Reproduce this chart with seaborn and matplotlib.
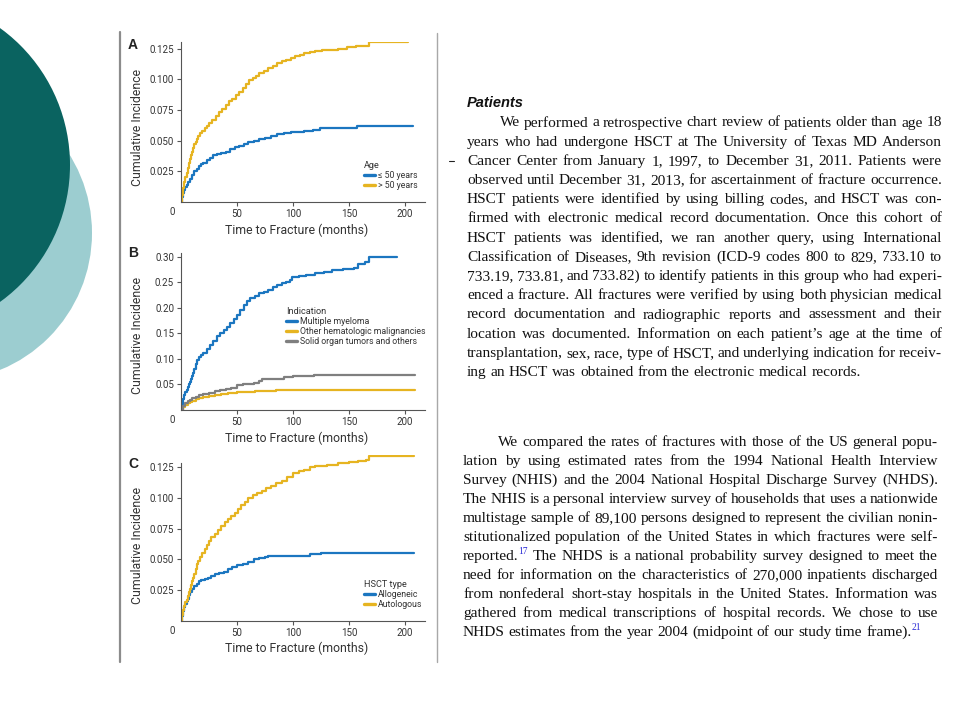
import numpy as np
import pandas as pd
import seaborn as sns
import matplotlib.pyplot as plt
from matplotlib.patches import Circle

# ---- panel A: cumulative incidence by age ----
age_groups = ["≤ 50 years", "> 50 years"]
a_young_t = [0, 1, 2, 3, 4, 5, 6, 8, 10, 12, 14, 16, 18, 20, 23, 26, 29, 32, 36, 40, 44, 48, 52, 56,
             60, 65, 70, 75, 80, 86, 92, 98, 104, 110, 118, 124, 140, 157, 207]
a_young_v = [0, .004, .007, .010, .012, .014, .016, .019, .022, .025, .027, .029, .031, .032, .034,
             .036, .038, .039, .040, .041, .043, .045, .046, .047, .049, .050, .051, .052, .054,
             .055, .056, .057, .057, .058, .059, .060, .060, .062, .062]
a_old_t = [0, 1, 2, 3, 4, 5, 6, 7, 8, 9, 10, 11, 12, 13, 14, 15, 17, 19, 21, 23, 25, 28, 31, 34, 37,
           40, 43, 46, 49, 52, 55, 58, 61, 64, 67, 70, 74, 78, 82, 86, 90, 94, 98, 102, 106, 110,
           115, 120, 126, 133, 140, 148, 156, 162, 168, 203]
a_old_v = [0, .006, .011, .016, .020, .024, .028, .032, .035, .038, .041, .044, .047, .049, .051,
           .054, .056, .058, .060, .062, .064, .067, .070, .073, .076, .079, .082, .084, .087, .090,
           .093, .096, .099, .101, .103, .105, .107, .109, .111, .113, .115, .116, .117, .119, .120,
           .121, .122, .123, .124, .124, .125, .126, .127, .127, .130, .130]

# ---- panel B: by indication ----
indications = ["Multiple myeloma", "Other hematologic malignancies", "Solid organ tumors and others"]
b_mm_t = [0, 1, 2, 3, 4, 5, 6, 7, 8, 9, 10, 11, 12, 13, 14, 16, 18, 20, 23, 26, 29, 32, 35, 38, 41,
          44, 47, 50, 53, 56, 59, 62, 66, 70, 74, 78, 82, 86, 90, 94, 97, 99, 105, 112, 120, 128,
          135, 145, 155, 158, 164, 168, 193]
b_mm_v = [0, .012, .022, .030, .036, .040, .045, .050, .055, .060, .066, .072, .080, .090, .098,
          .103, .108, .112, .120, .127, .135, .144, .150, .157, .163, .170, .178, .186, .195, .205,
          .213, .219, .223, .228, .231, .235, .240, .244, .248, .251, .255, .260, .262, .264, .268,
          .270, .274, .275, .278, .285, .290, .300, .300]
b_heme_t = [0, 2, 4, 6, 8, 10, 13, 16, 20, 25, 30, 36, 42, 50, 58, 66, 75, 85, 95, 105, 120, 150, 209]
b_heme_v = [0, .006, .010, .013, .016, .018, .021, .023, .025, .027, .029, .031, .033, .035, .036,
            .037, .038, .039, .039, .040, .040, .040, .040]
b_solid_t = [0, 2, 4, 6, 8, 10, 13, 16, 20, 25, 30, 35, 40, 45, 50, 55, 60, 65, 70, 72, 80, 92,
             100, 110, 119, 209]
b_solid_v = [0, .008, .013, .017, .020, .023, .026, .029, .031, .034, .037, .039, .041, .044, .048,
             .050, .051, .053, .056, .060, .061, .065, .066, .067, .069, .069]

# ---- panel C: by HSCT type ----
hsct_types = ["Allogeneic", "Autologous"]
c_allo_t = [0, 1, 2, 3, 4, 5, 6, 7, 8, 10, 12, 14, 16, 18, 21, 24, 27, 30, 34, 38, 42, 46, 50, 55,
            60, 65, 70, 75, 78, 90, 110, 115, 125, 208]
c_allo_v = [0, .004, .008, .011, .014, .016, .018, .021, .023, .026, .028, .030, .032, .033, .034,
            .035, .036, .038, .039, .040, .042, .044, .045, .046, .048, .050, .051, .052, .053,
            .053, .053, .054, .055, .055]
c_auto_t = [0, 1, 2, 3, 4, 5, 6, 7, 8, 9, 10, 11, 12, 13, 14, 15, 17, 19, 21, 23, 25, 27, 30, 33,
            36, 39, 42, 45, 48, 51, 54, 57, 60, 64, 68, 72, 76, 80, 85, 90, 95, 100, 105, 110, 115,
            120, 130, 140, 150, 158, 165, 168, 208]
c_auto_v = [0, .005, .009, .012, .015, .017, .020, .023, .026, .029, .032, .035, .038, .042, .046,
            .049, .052, .055, .058, .062, .065, .068, .071, .074, .077, .080, .083, .085, .088,
            .091, .094, .097, .100, .102, .104, .106, .108, .110, .112, .114, .117, .120, .122,
            .123, .125, .126, .127, .128, .129, .130, .131, .134, .134]

# ---- slide text ----
heading = "Patients"
para1 = [
    "We performed a retrospective chart review of patients older than age 18",
    "years who had undergone HSCT at The University of Texas MD Anderson",
    "Cancer Center from January 1, 1997, to December 31, 2011. Patients were",
    "observed until December 31, 2013, for ascertainment of fracture occurrence.",
    "HSCT patients were identified by using billing codes, and HSCT was con-",
    "firmed with electronic medical record documentation. Once this cohort of",
    "HSCT patients was identified, we ran another query, using International",
    "Classification of Diseases, 9th revision (ICD-9 codes 800 to 829, 733.10 to",
    "733.19, 733.81, and 733.82) to identify patients in this group who had experi-",
    "enced a fracture. All fractures were verified by using both physician medical",
    "record documentation and radiographic reports and assessment and their",
    "location was documented. Information on each patient’s age at the time of",
    "transplantation, sex, race, type of HSCT, and underlying indication for receiv-",
    "ing an HSCT was obtained from the electronic medical records.",
]
para2 = [
    "We compared the rates of fractures with those of the US general popu-",
    "lation by using estimated rates from the 1994 National Health Interview",
    "Survey (NHIS) and the 2004 National Hospital Discharge Survey (NHDS).",
    "The NHIS is a personal interview survey of households that uses a nationwide",
    "multistage sample of 89,100 persons designed to represent the civilian nonin-",
    "stitutionalized population of the United States in which fractures were self-",
    "reported.^17 The NHDS is a national probability survey designed to meet the",
    "need for information on the characteristics of 270,000 inpatients discharged",
    "from nonfederal short-stay hospitals in the United States. Information was",
    "gathered from medical transcriptions of hospital records. We chose to use",
    "NHDS estimates from the year 2004 (midpoint of our study time frame).^21",
]

BLUE = "#1b76c0"
YELLOW = "#e6b421"
GRAY = "#7f7f7f"
INK = "#333333"

sns.set_style("ticks")
sans = ["Liberation Sans Narrow", "Roboto", "DejaVu Sans"]
serif = ["Liberation Serif", "DejaVu Serif"]
plt.rcParams["font.family"] = sans


def long_frame(groups, times, values):
    parts = [pd.DataFrame({"t": t, "ci": v, "group": g}) for g, t, v in zip(groups, times, values)]
    return pd.concat(parts, ignore_index=True)


fig = plt.figure(figsize=(9.6, 7.2), dpi=100)

## background axes in pixel units for the slide decoration and text
bg = fig.add_axes([0, 0, 1, 1])
bg.set_xlim(0, 960)
bg.set_ylim(720, 0)
bg.axis("off")
bg.add_patch(Circle((-56, 233), 148, color="#9ccdd0", lw=0))
bg.add_patch(Circle((-99, 165), 169, color="#0a6360", lw=0))
bg.plot([120, 120], [32, 662], color="#8c8c8c", lw=1.6)
bg.plot([437, 437], [33, 662], color="#a8a8a8", lw=1.0)
bg.plot([449, 454], [161, 161], color="#222222", lw=0.8)


def px_axes(left, top, right, bottom):
    return fig.add_axes([left / 960, 1 - bottom / 720, (right - left) / 960, (bottom - top) / 720])


def draw_panel(ax, df, order, colors, ylim, yticks, yfmt, title, anchor, ylab_y, spine_top=None):
    sns.lineplot(data=df, x="t", y="ci", hue="group", hue_order=order, palette=colors,
                 drawstyle="steps-post", estimator=None, sort=False, linewidth=1.6, ax=ax)
    ax.patch.set_alpha(0)
    ax.set_xlim(0, 218)
    ax.set_ylim(*ylim)
    ax.set_xticks([50, 100, 150, 200])
    ax.set_yticks(yticks)
    ax.set_yticklabels([yfmt.format(v) for v in yticks])
    ax.tick_params(length=3, width=0.8, color="#555555", labelsize=7, labelcolor=INK, pad=2)
    sns.despine(ax=ax)
    for side in ["left", "bottom"]:
        ax.spines[side].set_color("#555555")
        ax.spines[side].set_linewidth(0.8)
    if spine_top is not None:
        ax.spines["left"].set_bounds(0, spine_top)
    ax.annotate("0", xy=(0, 0), xycoords="axes fraction", xytext=(-9, -10),
                textcoords="offset pixels", ha="center", va="center", fontsize=7, color=INK)
    h = ax.get_position().height * 720
    ax.set_xlabel("Time to Fracture (months)", fontsize=8.8, color=INK, va="center")
    ax.xaxis.set_label_coords(0.475, -28 / h)
    ax.set_ylabel("Cumulative Incidence", fontsize=8.8, color=INK, va="center")
    ax.yaxis.set_label_coords(-0.18, ylab_y)
    sns.move_legend(ax, "upper left", bbox_to_anchor=anchor, title=title, frameon=False,
                    fontsize=6.3, title_fontsize=6.6, alignment="left", borderpad=0,
                    borderaxespad=0, handlelength=1.3, handletextpad=0.3, labelspacing=0.12)
    leg = ax.get_legend()
    for ln in leg.get_lines():
        ln.set_linewidth(2.4)
    for txt in leg.get_texts():
        txt.set_color(INK)
    leg.get_title().set_color(INK)


# panel A
ax_a = px_axes(181, 42.4, 425, 202)
df_a = long_frame(age_groups, [a_young_t, a_old_t], [a_young_v, a_old_v])
draw_panel(ax_a, df_a, age_groups, {age_groups[0]: BLUE, age_groups[1]: YELLOW},
           (0, 0.13), [0.025, 0.05, 0.075, 0.1, 0.125], "{:.3f}", "Age", (0.75, 0.257), 0.47)

# panel B
ax_b = px_axes(181, 253.1, 425, 410)
df_b = long_frame(indications, [b_mm_t, b_heme_t, b_solid_t], [b_mm_v, b_heme_v, b_solid_v])
draw_panel(ax_b, df_b, indications,
           {indications[0]: BLUE, indications[1]: YELLOW, indications[2]: GRAY},
           (0, 0.307), [0.05, 0.10, 0.15, 0.20, 0.25, 0.30], "{:.2f}", "Indication",
           (0.43, 0.656), 0.478)

# panel C
ax_c = px_axes(181, 454.9, 425, 620.7)
df_c = long_frame(hsct_types, [c_allo_t, c_auto_t], [c_allo_v, c_auto_v])
draw_panel(ax_c, df_c, hsct_types, {hsct_types[0]: BLUE, hsct_types[1]: YELLOW},
           (0, 0.135), [0.025, 0.05, 0.075, 0.1, 0.125], "{:.3f}", "HSCT type",
           (0.75, 0.245), 0.455, spine_top=0.1286)

for letter, (lx, ly) in zip("ABC", [(133, 45), (133, 253), (133, 464)]):
    bg.text(lx, ly, letter, fontsize=10, fontweight="bold", ha="center", va="center",
            color="#222222", family=["Liberation Sans", "DejaVu Sans"])

## justified paragraphs, word by word
renderer = fig.canvas.get_renderer()
SIZE = 11.1


def put_para(lines, x0, x1, y0, dy, indent):
    space = SIZE * 0.25 * 100 / 72
    for i, line in enumerate(lines):
        base = y0 + i * dy
        start = x0 + (indent if i == 0 else 0)
        pieces = []
        for word in line.split(" "):
            main, _, sup = word.partition("^")
            t = bg.text(0, base, main, fontsize=SIZE, family=serif, va="baseline", color="#111111")
            wm = t.get_window_extent(renderer).width
            s, ws = None, 0
            if sup:
                s = bg.text(0, base - 6, sup, fontsize=SIZE * 0.62, family=serif,
                            va="baseline", color="#2b2bd6")
                ws = s.get_window_extent(renderer).width
            pieces.append((t, wm, s, ws))
        total = sum(p[1] + p[3] for p in pieces)
        gap = space
        if i < len(lines) - 1 and len(pieces) > 1:
            gap = max((x1 - start - total) / (len(pieces) - 1), 1)
        x = start
        for t, wm, s, ws in pieces:
            t.set_x(x)
            if s is not None:
                s.set_x(x + wm)
            x += wm + ws + gap


bg.text(467, 107, heading, fontsize=10.5, fontweight="bold", style="italic", va="baseline",
        color="#111111", family=["Liberation Sans", "DejaVu Sans"])
put_para(para1, 467, 942, 126.5, 19.2, 33)
put_para(para2, 463, 938, 445.7, 19.0, 35)

fig.savefig("out.png", dpi=100)
